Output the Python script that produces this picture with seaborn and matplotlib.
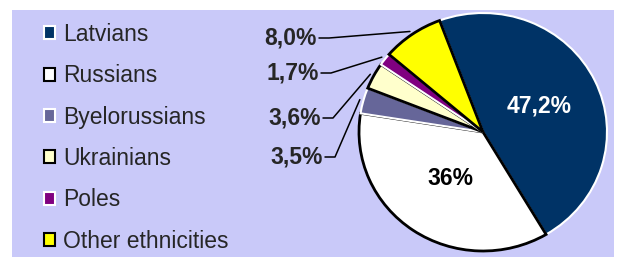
import numpy as np
import matplotlib.pyplot as plt
import seaborn as sns
from matplotlib.patches import Patch
from matplotlib.lines import Line2D
from matplotlib.transforms import IdentityTransform

groups = ['Latvians', 'Russians', 'Byelorussians', 'Ukrainians', 'Poles', 'Other ethnicities']
shares = [47.2, 36.0, 3.5, 3.6, 1.7, 8.0]
share_labels = ['47,2%', '36%', '3,5%', '3,6%', '1,7%', '8,0%']
colors = ['#003366', '#ffffff', '#666699', '#ffffcc', '#800080', '#ffff00']
edges = ['white', 'black', 'white', 'black', 'white', 'black']

sns.set_style('white')
plt.rcParams['font.family'] = ['Liberation Sans', 'DejaVu Sans']

fig = plt.figure(figsize=(6.2, 2.57), dpi=100)

# lavender chart area
bg = fig.add_axes([12 / 620, 0, 602 / 620, 247 / 257])
bg.set_facecolor('#c9c9f9')
bg.set_xticks([])
bg.set_yticks([])
for sp in bg.spines.values():
    sp.set_visible(False)

ax = fig.add_axes([359 / 620, 6 / 257, 248 / 620, 238 / 257])
ax.patch.set_alpha(0)
wedges, _ = ax.pie(shares, colors=colors, startangle=110.5, counterclock=False)
for w, ec in zip(wedges, edges):
    w.set_edgecolor(ec)
    w.set_linewidth(2.0 if ec == 'black' else 1.5)
    w.set_clip_on(False)
ax.set_aspect('auto')
ax.set_xlim(-1, 1)
ax.set_ylim(-1, 1)

def mid_point(w, r):
    a = np.deg2rad((w.theta1 + w.theta2) / 2)
    return r * np.cos(a), r * np.sin(a)

# labels inside the two big slices
x, y = mid_point(wedges[0], 0.5)
ax.text(x, y, share_labels[0], color='white', fontsize=16.5, fontweight='bold',
        ha='center', va='center')
x, y = mid_point(wedges[1], 0.47)
ax.text(x, y, share_labels[1], color='black', fontsize=16.5, fontweight='bold',
        ha='center', va='center')

# outside labels with leader lines (figure pixels: right edge, centre)
outside = {5: (317, 219), 4: (319, 184), 3: (321, 139), 2: (323, 100)}
for i, (tx, ty) in outside.items():
    fig.text(tx / 620, ty / 257, share_labels[i], fontsize=16.5, fontweight='bold',
             ha='right', va='center')
    px, py = ax.transData.transform(mid_point(wedges[i], 1.03))
    fig.add_artist(Line2D([tx + 2, tx + 12, px], [ty, ty, py], color='black',
                          linewidth=1.1, transform=IdentityTransform()))

handles = [Patch(facecolor=c, edgecolor=e, linewidth=1.5) for c, e in zip(colors, edges)]
fig.legend(handles, groups, loc='upper left', bbox_to_anchor=(44 / 620, 1 - 23 / 257),
           frameon=False, fontsize=16.5, handlelength=0.5, handleheight=0.5,
           handletextpad=0.35, labelspacing=0.8, borderpad=0, borderaxespad=0)

fig.savefig('out.png', dpi=100)
